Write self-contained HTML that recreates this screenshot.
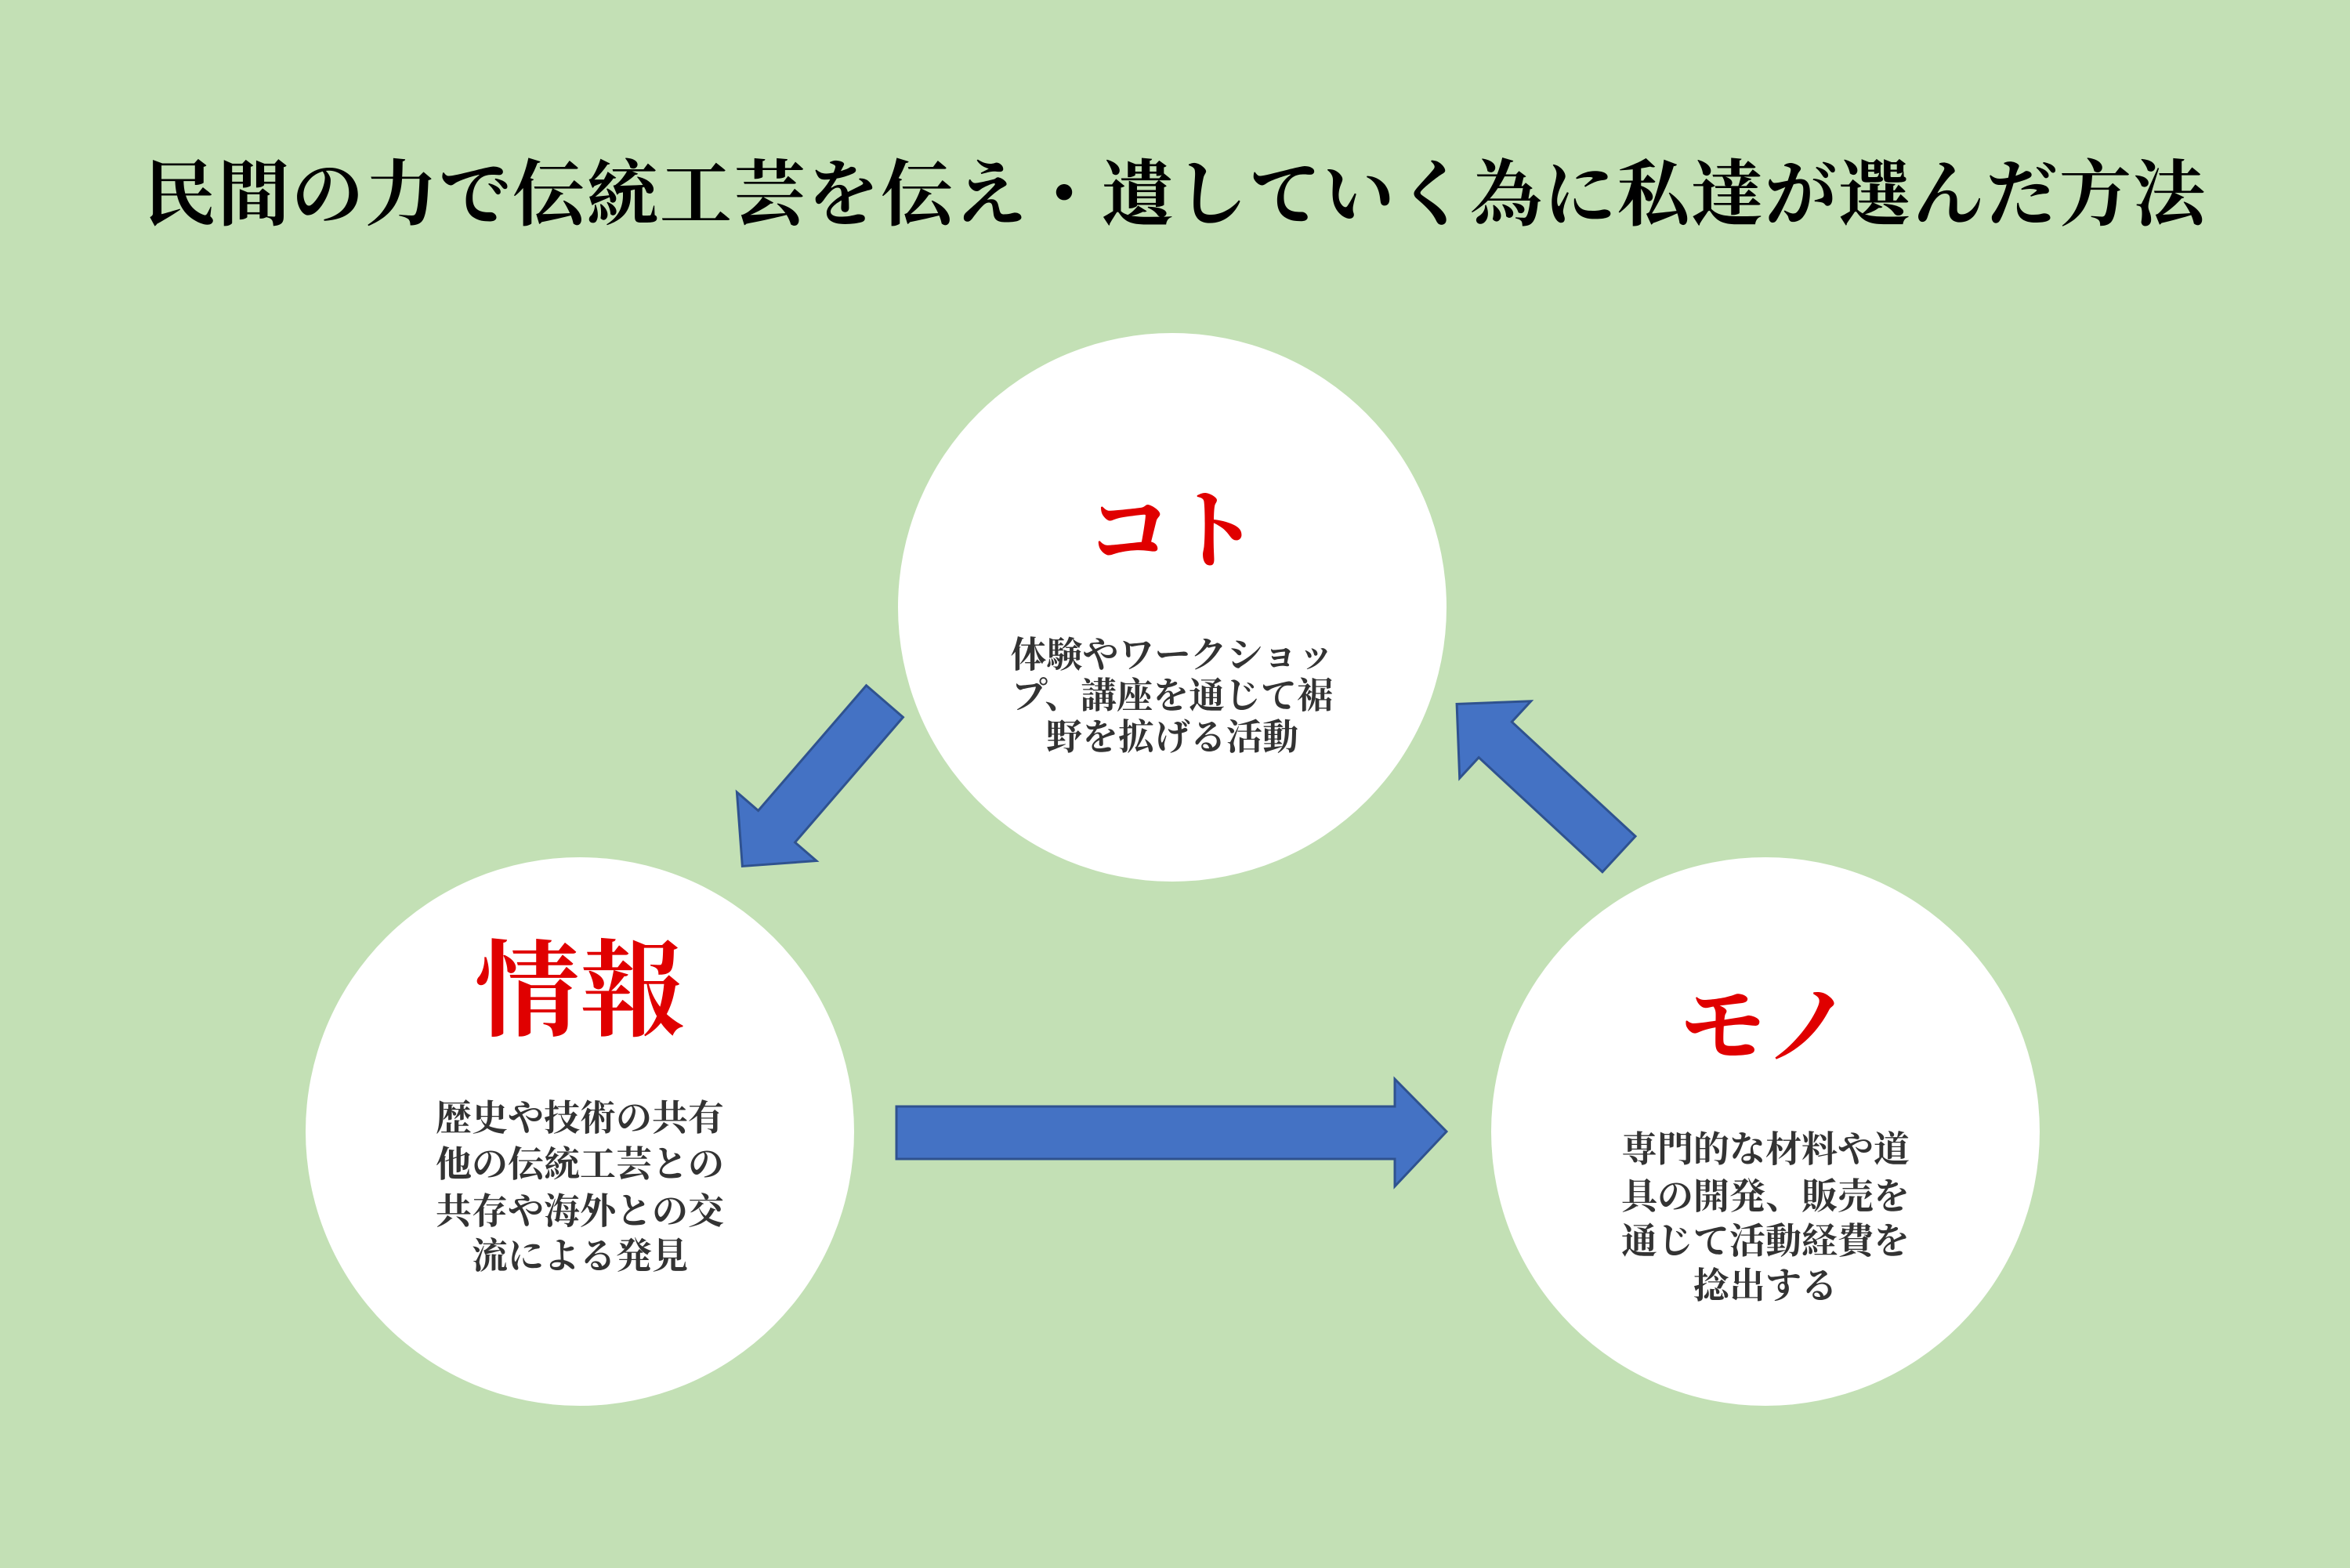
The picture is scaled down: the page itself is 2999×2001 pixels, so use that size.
<!DOCTYPE html>
<html><head><meta charset="utf-8"><style>
html,body{margin:0;padding:0;background:#C3E0B5;}
svg{display:block;}
text{font-family:"Liberation Serif","Noto Serif CJK SC",serif;}
</style></head><body>
<svg width="2999" height="2001" viewBox="0 0 2999 2001" xmlns="http://www.w3.org/2000/svg">
<rect width="2999" height="2001" fill="#C3E0B5"/>
<text x="1500" y="249" font-size="92" letter-spacing="2" text-anchor="middle" dominant-baseline="central" fill="#000" font-weight="bold">民間の力で伝統工芸を伝え・遺していく為に私達が選んだ方法</text>
<circle cx="1496" cy="775" r="350" fill="#fff"/>
<circle cx="740" cy="1444" r="350" fill="#fff"/>
<circle cx="2253" cy="1444" r="350" fill="#fff"/>
<g fill="#4472C4" stroke="#2F528F" stroke-width="3">
<polygon points="1144,1412 1780,1412 1780,1377 1846,1444 1780,1514 1780,1479 1144,1479"/>
<g transform="translate(1129,895) rotate(130.8)"><polygon points="0,-31 211,-31 211,-67 278,0 211,67 211,31 0,31"/></g>
<g transform="translate(2066,1090) rotate(222.8)"><polygon points="0,-31 215,-31 215,-67 282,0 215,67 215,31 0,31"/></g>
</g>
<g fill="#E00000" font-weight="bold" text-anchor="middle" dominant-baseline="central">
<text x="1496" y="679" font-size="110">コト</text>
<text x="740" y="1266" font-size="134">情報</text>
<text x="2253" y="1310" font-size="110">モノ</text>
</g>
<g fill="#333" font-size="46" font-weight="bold" text-anchor="middle" dominant-baseline="central">
<text x="1496" y="836">体験やワークショッ</text>
<text x="1496" y="888">プ、講座を通じて裾</text>
<text x="1496" y="941">野を拡げる活動</text>
<text x="740" y="1427">歴史や技術の共有</text>
<text x="740" y="1486">他の伝統工芸との</text>
<text x="740" y="1546">共存や海外との交</text>
<text x="740" y="1603">流による発見</text>
<text x="2253" y="1467">専門的な材料や道</text>
<text x="2253" y="1527">具の開発、販売を</text>
<text x="2253" y="1584">通じて活動経費を</text>
<text x="2253" y="1641">捻出する</text>
</g>
</svg>
</body></html>
